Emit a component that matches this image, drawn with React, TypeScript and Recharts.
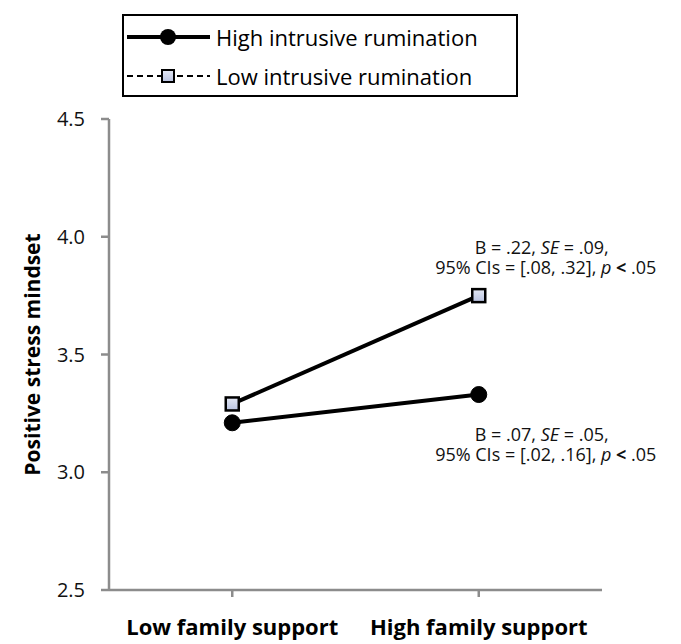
import React from 'react';
import { LineChart, Line, XAxis, YAxis, Legend, ReferenceDot } from 'recharts';

// categories on the x axis
const supportLevels = ['Low family support', 'High family support'];
// simple slopes
const highRumination = [3.21, 3.33];
const lowRumination = [3.29, 3.75];
const yTicks = [2.5, 3.0, 3.5, 4.0, 4.5];

const data = supportLevels.map((s, i) => ({
  support: s,
  high: highRumination[i],
  low: lowRumination[i],
}));

const FONT = '"Open Sans", sans-serif';
const AXIS_GREY = '#8c8c8c';

const SquareDot = (props: any) => {
  const { cx, cy, index } = props;
  if (cx == null || cy == null) return null;
  return (
    <rect
      key={`sq-${index}`}
      x={cx - 6.5}
      y={cy - 6.5}
      width={13}
      height={13}
      fill="url(#sqFill)"
      stroke="#000"
      strokeWidth={2.5}
    />
  );
};

const renderLegend = () => (
  <div
    style={{
      width: 392,
      height: 79,
      border: '2px solid #000',
      background: '#fff',
      fontFamily: FONT,
      fontSize: 22,
      color: '#000',
      boxSizing: 'content-box',
    }}
  >
    <div style={{ display: 'flex', alignItems: 'center', height: 40, marginTop: 1 }}>
      <svg width={90} height={24} style={{ marginLeft: 2 }}>
        <line x1={1} y1={12} x2={84} y2={12} stroke="#000" strokeWidth={4} />
        <circle cx={42} cy={12} r={8} fill="#000" />
      </svg>
      <span>High intrusive rumination</span>
    </div>
    <div style={{ display: 'flex', alignItems: 'center', height: 38 }}>
      <svg width={90} height={24} style={{ marginLeft: 2 }}>
        <line x1={1} y1={12} x2={84} y2={12} stroke="#000" strokeWidth={2} strokeDasharray="6 4" />
        <rect x={36} y={6} width={12} height={12} fill="url(#sqFillLegend)" stroke="#000" strokeWidth={2} />
        <defs>
          <linearGradient id="sqFillLegend" x1="0" y1="0" x2="0" y2="1">
            <stop offset="0%" stopColor="#e4e8f4" />
            <stop offset="100%" stopColor="#b8c2e0" />
          </linearGradient>
        </defs>
      </svg>
      <span>Low intrusive rumination</span>
    </div>
  </div>
);

const Annotation = (lines: { b: string; se: string; ci: string }, dx: number, dy: number) =>
  (props: any) => {
    const { viewBox } = props;
    const x = viewBox.x + viewBox.width / 2 + dx;
    const y = viewBox.y + viewBox.height / 2 + dy;
    return (
      <g fontFamily={FONT} fontSize={18} fill="#111">
        <text x={x - 4} y={y} textAnchor="middle">
          B = {lines.b}, <tspan fontStyle="italic">SE</tspan> = {lines.se},
        </text>
        <text x={x} y={y + 20} textAnchor="middle">
          95% CIs = {lines.ci}, <tspan fontStyle="italic">p</tspan> <tspan fontWeight="bold">{'<'}</tspan> .05
        </text>
      </g>
    );
  };

export default function App() {
  return (
    <div style={{ position: 'absolute', left: 0, top: 0, width: 681, height: 644, background: '#fff' }}>
      <LineChart
        width={681}
        height={644}
        data={data}
        margin={{ top: 119, right: 79, left: 49, bottom: 4 }}
      >
        <defs>
          <linearGradient id="sqFill" x1="0" y1="0" x2="0" y2="1">
            <stop offset="0%" stopColor="#e4e8f4" />
            <stop offset="100%" stopColor="#b8c2e0" />
          </linearGradient>
        </defs>
        <XAxis
          dataKey="support"
          scale="band"
          height={50}
          stroke={AXIS_GREY}
          strokeWidth={2.5}
          tickSize={7}
          tickMargin={22}
          tick={{ fill: '#000', fontFamily: FONT, fontSize: 22, fontWeight: 'bold' }}
          interval={0}
        />
        <YAxis
          width={60}
          domain={[2.5, 4.5]}
          ticks={yTicks}
          tickFormatter={(v: number) => v.toFixed(1)}
          stroke={AXIS_GREY}
          strokeWidth={2.5}
          tickSize={8}
          tickMargin={16}
          tick={{ fill: '#111', fontFamily: FONT, fontSize: 20 }}
          label={{
            value: 'Positive stress mindset',
            angle: -90,
            position: 'insideLeft',
            offset: -16,
            style: { textAnchor: 'middle', fill: '#000', fontFamily: FONT, fontSize: 21, fontWeight: 'bold' },
          }}
        />
        <Legend
          layout="vertical"
          align="center"
          verticalAlign="middle"
          content={renderLegend}
          wrapperStyle={{ left: 122, top: 14, width: 396, height: 83 }}
        />
        <Line
          dataKey="high"
          name="High intrusive rumination"
          stroke="#000"
          strokeWidth={4}
          dot={{ r: 8, fill: '#000', stroke: '#000', strokeWidth: 1 }}
          isAnimationActive={false}
        />
        <Line
          dataKey="low"
          name="Low intrusive rumination"
          stroke="#000"
          strokeWidth={4}
          dot={SquareDot}
          isAnimationActive={false}
        />
        <ReferenceDot
          x={supportLevels[1]}
          y={lowRumination[1]}
          r={0}
          stroke="none"
          fill="none"
          label={Annotation({ b: '.22', se: '.09', ci: '[.08, .32]' }, 67, -42)}
        />
        <ReferenceDot
          x={supportLevels[1]}
          y={highRumination[1]}
          r={0}
          stroke="none"
          fill="none"
          label={Annotation({ b: '.07', se: '.05', ci: '[.02, .16]' }, 67, 46)}
        />
      </LineChart>
    </div>
  );
}
